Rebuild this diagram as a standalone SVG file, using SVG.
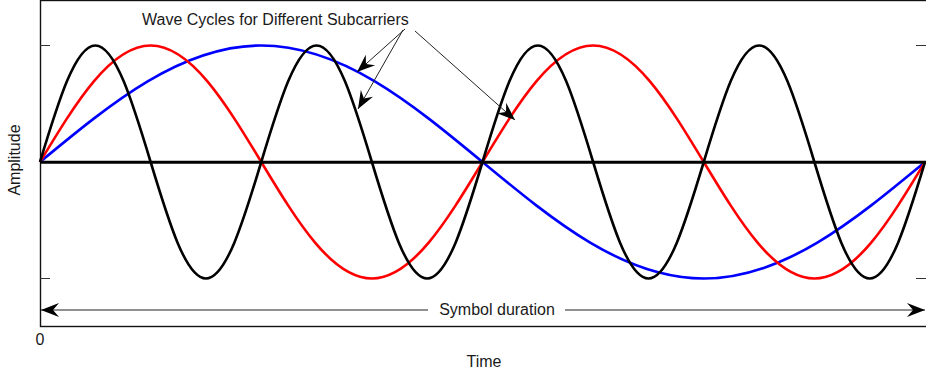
<svg xmlns="http://www.w3.org/2000/svg" width="926" height="377" viewBox="0 0 926 377">
  <style>
    .t { font-family: "Liberation Sans", Arial, sans-serif; font-size: 16px; fill: #1a1a1a; }
    .wave { fill: none; stroke-width: 2.6; stroke-linejoin: round; }
    .thin { fill: none; stroke: #222; stroke-width: 1; }
  </style>
  <defs>
    <marker id="barb" viewBox="-19 -8 20 16" markerWidth="20" markerHeight="16" refX="0" refY="0" markerUnits="userSpaceOnUse" orient="auto-start-reverse">
      <path d="M0,0 L-18,-7 L-12,0 L-18,7 Z" fill="#000"/>
    </marker>
  </defs>
  <rect width="926" height="377" fill="#fff"/>

  <g id="frame">
    <rect x="40.5" y="0.5" width="1000" height="326" fill="none" stroke="#111" stroke-width="1.4"/>
    <path d="M40,45.5 H50 M40,278.5 H50 M916,45.5 H926 M916,278.5 H926" stroke="#333" stroke-width="1"/>
  </g>

  <g id="waves">
    <path id="blue" class="wave" stroke="#0000ff" d="M40,162 C112.16,102.32 181.18,45.5 261.25,45.5 C341.32,45.5 410.34,102.32 482.5,162 C554.66,221.68 623.68,278.5 703.75,278.5 C783.82,278.5 852.84,221.68 925,162"/>
    <path id="red" class="wave" stroke="#ff0000" d="M40,162 C76.08,102.32 110.59,45.5 150.63,45.5 C190.66,45.5 225.17,102.32 261.25,162 C297.33,221.68 331.84,278.5 371.88,278.5 C411.91,278.5 446.42,221.68 482.5,162 C518.58,102.32 553.09,45.5 593.13,45.5 C633.16,45.5 667.67,102.32 703.75,162 C739.83,221.68 774.34,278.5 814.38,278.5 C854.41,278.5 888.92,221.68 925,162"/>
    <path id="black" class="wave" stroke="#000" d="M40,162 C58.04,102.32 75.29,45.5 95.31,45.5 C115.33,45.5 132.59,102.32 150.63,162 C168.67,221.68 185.92,278.5 205.94,278.5 C225.96,278.5 243.21,221.68 261.25,162 C279.29,102.32 296.54,45.5 316.56,45.5 C336.58,45.5 353.84,102.32 371.88,162 C389.92,221.68 407.17,278.5 427.19,278.5 C447.21,278.5 464.46,221.68 482.5,162 C500.54,102.32 517.79,45.5 537.81,45.5 C557.83,45.5 575.09,102.32 593.13,162 C611.17,221.68 628.42,278.5 648.44,278.5 C668.46,278.5 685.71,221.68 703.75,162 C721.79,102.32 739.04,45.5 759.06,45.5 C779.08,45.5 796.34,102.32 814.38,162 C832.42,221.68 849.67,278.5 869.69,278.5 C889.71,278.5 906.96,221.68 925,162"/>
    <path id="zero-line" d="M40,162.3 H926" stroke="#000" stroke-width="3"/>
  </g>

  <g id="connectors">
    <path class="thin" d="M405,29 L357,72" marker-end="url(#barb)"/>
    <path class="thin" d="M403,30 L358,109" marker-end="url(#barb)"/>
    <path class="thin" d="M415,31 L515,120" marker-end="url(#barb)"/>
    <path class="thin" d="M428,310 H41" marker-end="url(#barb)"/>
    <path class="thin" d="M565,310 H925" marker-end="url(#barb)"/>
  </g>

  <g id="labels">
    <text id="title" class="t" x="142" y="25">Wave Cycles for Different Subcarriers</text>
    <text id="symbol-duration" class="t" x="497" y="315" text-anchor="middle">Symbol duration</text>
    <text id="zero" class="t" x="40" y="345" text-anchor="middle">0</text>
    <text id="xlabel" class="t" x="484" y="367" text-anchor="middle">Time</text>
    <text id="ylabel" class="t" transform="translate(20,160) rotate(-90)" text-anchor="middle">Amplitude</text>
  </g>
</svg>
